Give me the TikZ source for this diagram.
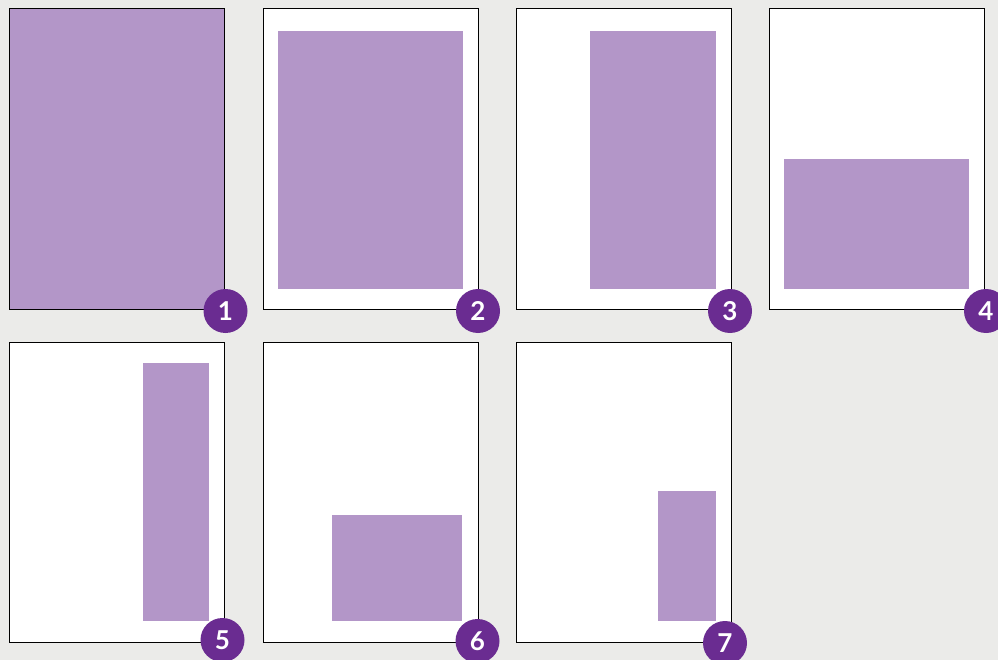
\documentclass[tikz,border=0pt]{standalone}
\usepackage{fontspec}
\setmainfont{Lato}
\usepackage{tikz}
\definecolor{bggray}{HTML}{EBEBE9}
\definecolor{lilac}{HTML}{B396C8}
\definecolor{grape}{HTML}{6A2C91}
\begin{document}
\begin{tikzpicture}[x=1pt,y=-1pt,
  page/.style={draw=black,fill=white,line width=1pt},
  block/.style={fill=lilac},
  badge/.style={circle,fill=grape,text=white,minimum size=44pt,inner sep=0pt,font=\fontsize{26}{26}\selectfont\bfseries}]
\fill[bggray] (0,0) rectangle (998,660);
\useasboundingbox (0,0) rectangle (998,660);
% pages
\foreach \n/\x/\y in {1/9/9,2/263/9,3/516/9,4/769/9,5/9/342,6/263/342,7/516/342}{
  \path[page] (\x,\y) rectangle ++(215,300);
}
% purple areas
\fill[block] (9,9) rectangle (224,309);
\fill[block] (278,31) rectangle (463,289);
\fill[block] (590,31) rectangle (716,289);
\fill[block] (784,159) rectangle (969,289);
\fill[block] (143,363) rectangle (209,621);
\fill[block] (332,515) rectangle (462,621);
\fill[block] (658,491) rectangle (716,621);
\draw[black,line width=1pt] (9,9) rectangle (224,309);
% numbers
\foreach \n/\x/\y in {1/225.5/311,2/478/311,3/730/311,4/986/311,5/222.5/640,6/477.5/641,7/725/643}{
  \node[badge] (badge\n) at (\x,\y) {\n};
}
\end{tikzpicture}
\end{document}
